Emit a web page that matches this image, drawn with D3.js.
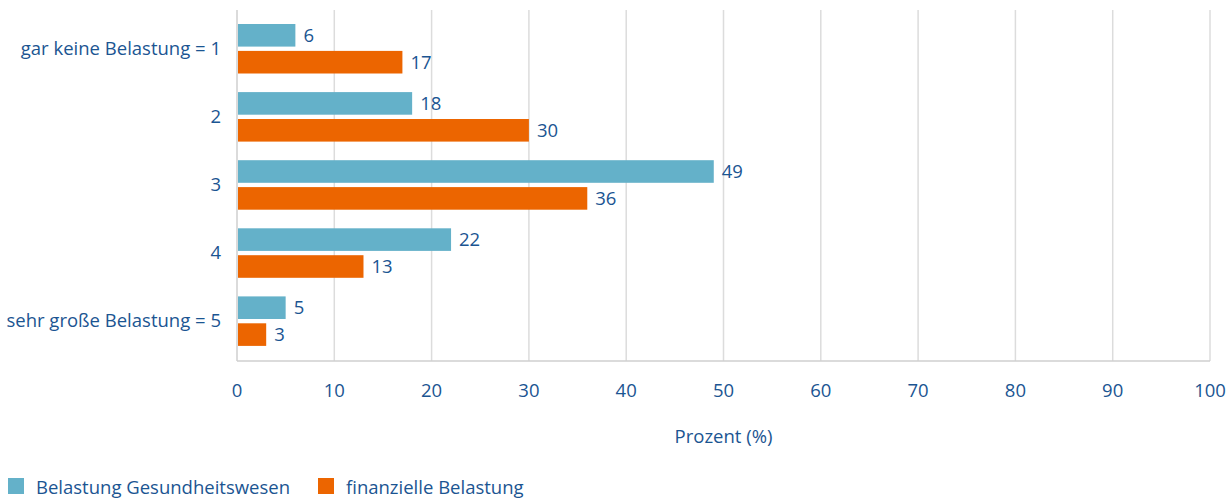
<!DOCTYPE html>
<html><head><meta charset="utf-8">
<script src="https://cdn.jsdelivr.net/npm/d3@7"></script>
<style>body{margin:0;background:#fff}svg{display:block}text{font-family:"Open Sans",sans-serif;fill:#1b5592}</style>
</head><body>
<svg id="c" width="1232" height="501"></svg>
<script>
const categories = ["gar keine Belastung = 1","2","3","4","sehr große Belastung = 5"];
const seriesNames = ["Belastung Gesundheitswesen","finanzielle Belastung"];
const gesundheit = [6,18,49,22,5];
const finanziell = [17,30,36,13,3];
const xTicks = [0,10,20,30,40,50,60,70,80,90,100];
const colors = ["#64b1c9","#ec6500"];
const axisTitle = "Prozent (%)";
const FS = 18.5;

const svg = d3.select("#c");
const x = d3.scaleLinear().domain([0,100]).range([237,1210]);
const y = d3.scaleBand().domain(categories).range([14.5,355]).padding(0);
const sub = d3.scaleBand().domain(seriesNames).range([9.5,59]).paddingInner(0.16);

// gridlines
svg.append("g").selectAll("line").data(xTicks.slice(1)).join("line")
  .attr("x1",d=>x(d)).attr("x2",d=>x(d)).attr("y1",10).attr("y2",361)
  .attr("stroke","#dcdcdc").attr("stroke-width",1.5);
// axes lines
svg.append("line").attr("x1",x(0)).attr("x2",x(0)).attr("y1",10).attr("y2",361).attr("stroke","#cfcfcf").attr("stroke-width",1.5);
svg.append("line").attr("x1",x(0)).attr("x2",x(100)).attr("y1",361).attr("y2",361).attr("stroke","#cfcfcf").attr("stroke-width",1.5);

const data = [gesundheit, finanziell];
data.forEach((vals,si)=>{
  const g = svg.append("g");
  g.selectAll("rect").data(vals).join("rect")
    .attr("x",x(0)+1).attr("y",(d,i)=>y(categories[i])+sub(seriesNames[si]))
    .attr("width",d=>x(d)-x(0)-1).attr("height",sub.bandwidth())
    .attr("fill",colors[si]);
  g.selectAll("text").data(vals).join("text")
    .attr("x",d=>x(d)+8).attr("y",(d,i)=>y(categories[i])+sub(seriesNames[si])+sub.bandwidth()/2)
    .attr("dy","0.36em").attr("font-size",FS).text(d=>d);
});

// y labels
svg.append("g").selectAll("text").data(categories).join("text")
  .attr("x",221).attr("y",d=>y(d)+y.bandwidth()/2-0.5).attr("dy","0.36em")
  .attr("text-anchor","end").attr("font-size",FS).text(d=>d);

// x tick labels
svg.append("g").selectAll("text").data(xTicks).join("text")
  .attr("x",d=>x(d)).attr("y",390).attr("dy","0.36em")
  .attr("text-anchor","middle").attr("font-size",FS).text(d=>d);

svg.append("text").attr("x",(x(0)+x(100))/2).attr("y",436).attr("dy","0.36em")
  .attr("text-anchor","middle").attr("font-size",FS).text(axisTitle);

// legend
const legX = [8,318];
seriesNames.forEach((s,i)=>{
  svg.append("rect").attr("x",legX[i]).attr("y",478).attr("width",16).attr("height",16).attr("fill",colors[i]);
  svg.append("text").attr("x",legX[i]+28).attr("y",487).attr("dy","0.36em").attr("font-size",FS).text(s);
});
</script>
</body></html>
